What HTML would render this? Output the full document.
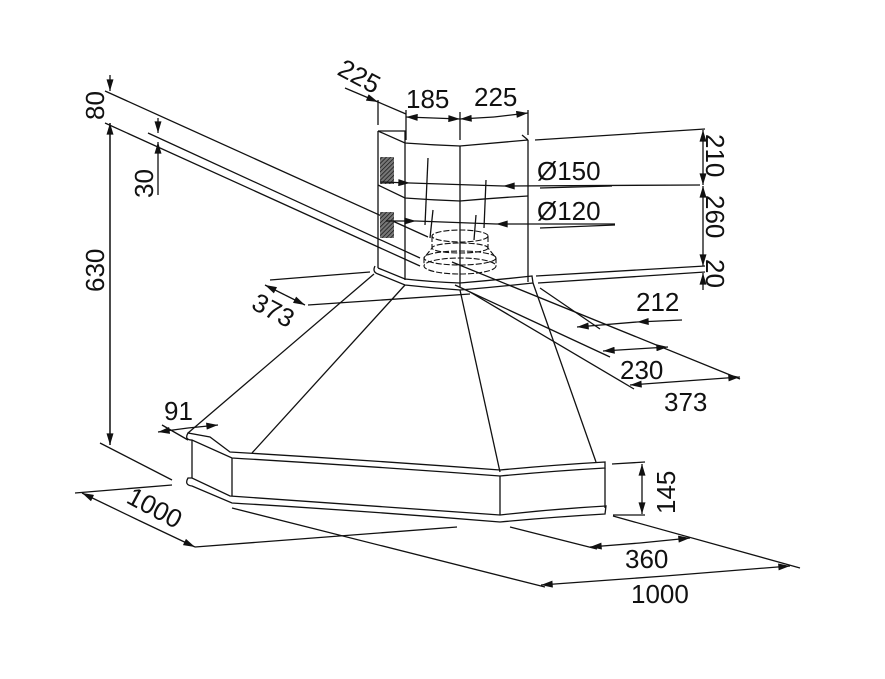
<!DOCTYPE html>
<html><head><style>html,body{margin:0;padding:0;background:#fff}svg{display:block}text{font-family:"Liberation Sans",sans-serif;font-size:26px;fill:#111}</style></head>
<body>
<svg width="885" height="679" viewBox="0 0 885 679" xmlns="http://www.w3.org/2000/svg">
<defs>
<marker id="a" viewBox="0 0 10 6" refX="10" refY="3" markerWidth="17" markerHeight="7" markerUnits="userSpaceOnUse" orient="auto"><path d="M0,0L10,3L0,6z" fill="#111"/></marker>
<pattern id="h" width="3" height="3" patternUnits="userSpaceOnUse" patternTransform="rotate(45)"><rect width="3" height="3" fill="#777"/><line x1="0" y1="0" x2="0" y2="3" stroke="#111" stroke-width="1.4"/></pattern>
</defs>
<g stroke="#111" stroke-width="1.3" fill="none">
<line x1="105" y1="91" x2="428" y2="237"/>
<line x1="452" y1="262" x2="740" y2="379"/>
<line x1="148" y1="133" x2="420" y2="258"/>
<line x1="455" y1="285" x2="610" y2="357"/>
<line x1="105" y1="123" x2="420" y2="266"/>
<line x1="470" y1="292" x2="634" y2="389"/>
<line x1="540" y1="288" x2="600" y2="329"/>
<line x1="110" y1="75" x2="110" y2="91" marker-end="url(#a)"/>
<line x1="110" y1="445" x2="110" y2="123" marker-end="url(#a)"/>
<line x1="110" y1="123" x2="110" y2="445" marker-end="url(#a)"/>
<line x1="158" y1="118" x2="158" y2="133" marker-end="url(#a)"/>
<line x1="158" y1="195" x2="158" y2="142" marker-end="url(#a)"/>
<line x1="378" y1="100" x2="378" y2="125"/>
<line x1="406" y1="110" x2="406" y2="140"/>
<line x1="460" y1="112" x2="460" y2="140"/>
<line x1="528" y1="110" x2="528" y2="135"/>
<line x1="345" y1="88" x2="378" y2="102" marker-end="url(#a)"/>
<line x1="378" y1="102" x2="406" y2="114"/>
<line x1="433" y1="118" x2="406" y2="117" marker-end="url(#a)"/>
<line x1="433" y1="118" x2="460" y2="119" marker-end="url(#a)"/>
<line x1="494" y1="117" x2="460" y2="119" marker-end="url(#a)"/>
<line x1="494" y1="117" x2="528" y2="113" marker-end="url(#a)"/>
<path d="M378,131 L405,143 Q432,145 460,146 Q494,143 528,140"/>
<path d="M378,131 L405,131 L405,143"/>
<path d="M378,185 L405,198 Q432,200 460,201 Q494,198 528,196"/>
<line x1="378" y1="131" x2="378" y2="268"/>
<line x1="405" y1="143" x2="405" y2="280"/>
<line x1="460" y1="146" x2="460" y2="287"/>
<line x1="528" y1="140" x2="528" y2="282"/>
<line x1="528" y1="140" x2="522" y2="135"/>
<path d="M375,266 Q372,272 378,274 L405,285 Q432,288 460,290 Q496,287 533,283 L532,276 Q496,280 460,283 Q432,282 405,279 L378,268"/>
<rect x="380" y="157" width="14" height="27" fill="url(#h)" stroke="none"/>
<rect x="380" y="212" width="14" height="26" fill="url(#h)" stroke="none"/>
<g stroke-dasharray="6,2" stroke-width="1.1">
<ellipse cx="460" cy="236" rx="28" ry="6"/>
<ellipse cx="460" cy="248" rx="28" ry="5"/>
<path d="M432,236 L432,248 L424,258 L424,266 M488,236 L488,248 L496,258 L496,266"/>
<ellipse cx="460" cy="258" rx="36" ry="7"/>
<ellipse cx="460" cy="266" rx="36" ry="8"/>
</g>
<line x1="428" y1="158" x2="425" y2="225"/><line x1="486" y1="180" x2="484" y2="228"/>
<line x1="433" y1="210" x2="430" y2="238"/><line x1="476" y1="215" x2="474" y2="240"/>
<line x1="380" y1="182" x2="410" y2="183" marker-end="url(#a)"/>
<line x1="700" y1="185" x2="503" y2="186" marker-end="url(#a)"/>
<line x1="410" y1="183" x2="503" y2="186"/>
<line x1="540" y1="188" x2="612" y2="186"/>
<line x1="386" y1="221" x2="416" y2="221" marker-end="url(#a)"/>
<line x1="615" y1="224" x2="496" y2="224" marker-end="url(#a)"/>
<line x1="416" y1="221" x2="496" y2="224"/>
<line x1="540" y1="228" x2="615" y2="225"/>
<line x1="535" y1="140" x2="705" y2="129"/>
<line x1="536" y1="276" x2="705" y2="266"/>
<line x1="538" y1="283" x2="705" y2="272"/>
<line x1="270" y1="280" x2="370" y2="272"/>
<line x1="703" y1="157" x2="703" y2="130" marker-end="url(#a)"/>
<line x1="703" y1="157" x2="703" y2="185" marker-end="url(#a)"/>
<line x1="703" y1="225" x2="703" y2="186" marker-end="url(#a)"/>
<line x1="703" y1="225" x2="703" y2="266" marker-end="url(#a)"/>
<line x1="703" y1="290" x2="703" y2="273" marker-end="url(#a)"/>
<line x1="682" y1="320" x2="637" y2="322" marker-end="url(#a)"/>
<line x1="637" y1="322" x2="577" y2="327" marker-end="url(#a)"/>
<line x1="635" y1="349" x2="603" y2="351" marker-end="url(#a)"/>
<line x1="635" y1="349" x2="668" y2="347" marker-end="url(#a)"/>
<line x1="685" y1="381" x2="630" y2="385" marker-end="url(#a)"/>
<line x1="685" y1="381" x2="740" y2="377" marker-end="url(#a)"/>
<line x1="308" y1="305" x2="470" y2="294"/>
<line x1="285" y1="295" x2="265" y2="285" marker-end="url(#a)"/>
<line x1="285" y1="295" x2="305" y2="305" marker-end="url(#a)"/>
<line x1="374" y1="274" x2="188" y2="433"/>
<line x1="405" y1="285" x2="252" y2="453"/>
<line x1="460" y1="290" x2="500" y2="472"/>
<line x1="533" y1="283" x2="596" y2="462"/>
<path d="M188,433 Q184,440 192,440 L232,458 Q366,466 500,476 Q553,471 605,468 L605,462 Q553,465 500,470 Q366,460 230,452 L210,437 Z"/>
<path d="M232,458 L232,496 M500,476 L500,515 M605,468 L605,508"/>
<path d="M188,478 Q184,485 192,486 L232,503 Q366,511 500,522 Q553,517 605,514 L606,506 Q553,509 500,515 Q366,505 230,496 L192,478 Z"/>
<line x1="192" y1="440" x2="192" y2="478"/>
<line x1="188" y1="428" x2="158" y2="432" marker-end="url(#a)"/>
<line x1="188" y1="428" x2="218" y2="425" marker-end="url(#a)"/>
<line x1="162" y1="425" x2="188" y2="440"/>
<line x1="100" y1="443" x2="172" y2="480"/>
<line x1="75" y1="493" x2="172" y2="485"/>
<line x1="138" y1="520" x2="82" y2="493" marker-end="url(#a)"/>
<line x1="138" y1="520" x2="195" y2="547" marker-end="url(#a)"/>
<line x1="195" y1="547" x2="457" y2="527"/>
<line x1="612" y1="464" x2="645" y2="462"/>
<line x1="613" y1="515" x2="645" y2="515"/>
<line x1="642" y1="488" x2="642" y2="464" marker-end="url(#a)"/>
<line x1="642" y1="488" x2="642" y2="514" marker-end="url(#a)"/>
<line x1="510" y1="527" x2="597" y2="549"/>
<line x1="613" y1="516" x2="800" y2="568"/>
<line x1="640" y1="543" x2="590" y2="547" marker-end="url(#a)"/>
<line x1="640" y1="543" x2="690" y2="538" marker-end="url(#a)"/>
<line x1="232" y1="508" x2="545" y2="587"/>
<line x1="665" y1="576" x2="541" y2="585" marker-end="url(#a)"/>
<line x1="665" y1="576" x2="790" y2="566" marker-end="url(#a)"/>
</g>
<g>
<text transform="translate(336,74) rotate(28)">225</text>
<text x="406" y="108">185</text>
<text x="474" y="106">225</text>
<text x="537" y="180">Ø150</text>
<text x="537" y="220">Ø120</text>
<text transform="translate(706,134) rotate(90)">210</text>
<text transform="translate(706,195) rotate(90)">260</text>
<text transform="translate(706,259) rotate(90)">20</text>
<text transform="translate(104,120) rotate(-90)">80</text>
<text transform="translate(153,198) rotate(-90)">30</text>
<text transform="translate(104,292) rotate(-90)">630</text>
<text transform="translate(250,308) rotate(28)">373</text>
<text x="636" y="311">212</text>
<text x="620" y="379">230</text>
<text x="664" y="411">373</text>
<text x="164" y="420">91</text>
<text transform="translate(125,502) rotate(28)">1000</text>
<text transform="translate(675,514) rotate(-90)">145</text>
<text x="625" y="568">360</text>
<text x="631" y="603">1000</text>
</g>
</svg>
</body></html>
